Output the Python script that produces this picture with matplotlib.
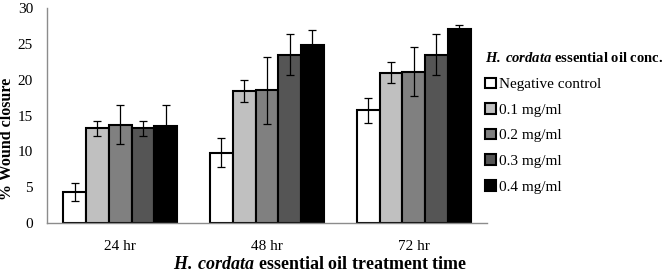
import numpy as np
import matplotlib
matplotlib.use("Agg")
import matplotlib.pyplot as plt

plt.rcParams['font.family'] = ['Liberation Serif', 'DejaVu Serif']
plt.rcParams['mathtext.fontset'] = 'custom'
plt.rcParams['mathtext.rm'] = 'Liberation Serif'
plt.rcParams['mathtext.it'] = 'Liberation Serif:italic'
plt.rcParams['mathtext.bf'] = 'Liberation Serif:bold'
plt.rcParams['mathtext.bfit'] = 'Liberation Serif:italic:bold'

# data
times = ["24 hr", "48 hr", "72 hr"]
series = ["Negative control", "0.1 mg/ml", "0.2 mg/ml", "0.3 mg/ml", "0.4 mg/ml"]
means = [
    [4.3, 9.8, 15.7],     # negative control
    [13.2, 18.4, 21.0],   # 0.1 mg/ml
    [13.7, 18.5, 21.1],   # 0.2 mg/ml
    [13.2, 23.5, 23.5],   # 0.3 mg/ml
    [13.6, 24.9, 27.1],   # 0.4 mg/ml
]
errors = [
    [1.3, 2.0, 1.7],
    [1.0, 1.5, 1.4],
    [2.7, 4.7, 3.4],
    [1.0, 2.9, 2.9],
    [2.8, 2.1, 0.5],
]
colours = ["#ffffff", "#c0c0c0", "#808080", "#555555", "#000000"]

fig = plt.figure(figsize=(6.69, 2.77), dpi=100)
ax = fig.add_axes([0.070, 0.195, 0.658, 0.776])

x = np.arange(len(times))
width = 0.155
for i, name in enumerate(series):
    pos = x + (i - 2) * width
    ax.bar(pos, means[i], width, color=colours[i], edgecolor="black",
           linewidth=1.5, label=name, zorder=2)
    ax.errorbar(pos, means[i], yerr=errors[i], fmt="none", ecolor="black",
                elinewidth=0.9, capsize=3, capthick=0.9, zorder=3)

ax.set_xlim(-0.5, 2.5)
ax.set_ylim(0, 30)
ax.set_yticks(range(0, 31, 5))
ax.set_xticks(x)
ax.set_xticklabels(times)
ax.tick_params(axis="y", length=0, labelsize=11, pad=10)
ax.tick_params(axis="x", length=0, labelsize=11, pad=12)
for s in ["top", "right"]:
    ax.spines[s].set_visible(False)
for s in ["left", "bottom"]:
    ax.spines[s].set_color("#8c8c8c")
    ax.spines[s].set_linewidth(1.0)

ax.set_ylabel("% Wound closure", fontsize=11.5, fontweight="bold")
ax.yaxis.set_label_coords(-0.072, 0.39)
# x title sits right of the axes centre in the reference
fig.text(0.478, 0.045, r"$\mathbfit{H.\;cordata}$ essential oil treatment time",
         fontsize=13, fontweight="bold", ha="center", va="center")

leg = ax.legend(loc="upper left", bbox_to_anchor=(0.995, 0.80), frameon=False,
                title=r"$\mathbfit{H.\;cordata}$ essential oil conc.",
                fontsize=11, handlelength=0.7, handleheight=0.7,
                handletextpad=0.2, labelspacing=0.78, borderaxespad=0.0,
                borderpad=0.0)
leg.get_title().set_fontweight("bold")
leg.get_title().set_fontsize(10.5)
leg._legend_box.align = "left"
leg._legend_box.sep = 9

fig.savefig("out.png", dpi=100)
